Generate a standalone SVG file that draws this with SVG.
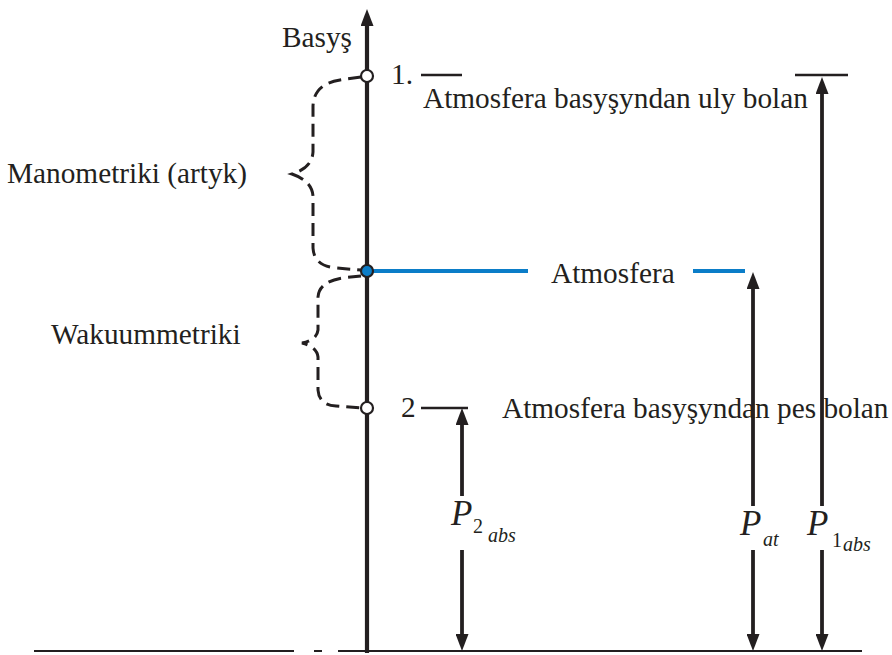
<svg xmlns="http://www.w3.org/2000/svg" width="892" height="655" viewBox="0 0 892 655">
<style>
.t{font-family:"Liberation Serif","Times New Roman",serif;font-size:29.3px;fill:#231f20}
.p{font-family:"Liberation Serif","Times New Roman",serif;font-style:italic;fill:#231f20}
.s{font-family:"Liberation Serif","Times New Roman",serif;fill:#231f20}
.ln{stroke:#231f20;fill:none}
.ax{stroke:#231f20;stroke-width:4.2;fill:none}
.ar{stroke:#231f20;stroke-width:3.8;fill:none}
.bl{stroke:#0b7dc8;stroke-width:4;fill:none}
.br{stroke:#231f20;stroke-width:3;fill:none;stroke-dasharray:13 7}
.pt{stroke:#231f20;stroke-width:2.2}
</style>
<defs>
<marker id="ah" markerUnits="userSpaceOnUse" markerWidth="17" markerHeight="13" refX="6" refY="6.5" orient="auto-start-reverse" viewBox="0 0 17 13">
<path d="M0,0 L17,6.5 L0,13 z" fill="#231f20"/>
</marker>
</defs>
<g id="baseline">
<line class="ln" stroke-width="2" x1="34" y1="651" x2="294" y2="651"/>
<line class="ln" stroke-width="2" x1="314" y1="651" x2="322" y2="651"/>
<line class="ln" stroke-width="2" x1="338" y1="651" x2="862" y2="651"/>
</g>
<g id="axis">
<line class="ax" x1="367" y1="653" x2="367" y2="20" marker-end="url(#ah)"/>
<text class="t" x="282" y="47">Basyş</text>
</g>
<g id="connectors">
<line class="bl" x1="367" y1="271" x2="528" y2="271"/>
<line class="bl" x1="693" y1="271" x2="745" y2="271"/>
<line class="ln" stroke-width="2.5" x1="421" y1="75" x2="462" y2="75"/>
<line class="ln" stroke-width="2.5" x1="795" y1="75" x2="848" y2="75"/>
<line class="ln" stroke-width="2.5" x1="421" y1="408" x2="468" y2="408"/>
<line class="ar" x1="822" y1="88" x2="822" y2="506" marker-start="url(#ah)"/>
<line class="ar" x1="822" y1="550" x2="822" y2="640" marker-end="url(#ah)"/>
<line class="ar" x1="753" y1="283" x2="753" y2="506" marker-start="url(#ah)"/>
<line class="ar" x1="753" y1="550" x2="753" y2="640" marker-end="url(#ah)"/>
<line class="ar" x1="462" y1="419" x2="462" y2="496" marker-start="url(#ah)"/>
<line class="ar" x1="462" y1="550" x2="462" y2="640" marker-end="url(#ah)"/>
<path class="br" d="M361 77 L340 80 Q314 84 313 106 L313 152 Q312 168 292 174 Q312 181 313 196 L313 248 Q314 266 336 268 L361 270"/>
<path class="br" d="M361 276 L342 278 Q319 282 318 297 L318 330 Q317 340 302 343 Q317 347 318 357 L318 390 Q319 405 336 406 L361 408"/>
</g>
<g id="point1">
<circle class="pt" cx="367" cy="76" r="6" fill="#ffffff"/>
<text class="t" x="391" y="84">1.</text>
<text class="t" x="423" y="108">Atmosfera basyşyndan uly bolan</text>
</g>
<g id="atmosphere">
<circle class="pt" cx="367" cy="271" r="6" fill="#0b7dc8"/>
<text class="t" x="551" y="283">Atmosfera</text>
</g>
<g id="point2">
<circle class="pt" cx="367" cy="408" r="6" fill="#ffffff"/>
<text class="t" x="401" y="417">2</text>
<text class="t" x="502" y="418">Atmosfera basyşyndan pes bolan</text>
</g>
<g id="manometric">
<text class="t" x="7" y="183" font-size="30.2">Manometriki (artyk)</text>
</g>
<g id="vacuum">
<text class="t" x="51" y="344" font-size="31">Wakuummetriki</text>
</g>
<g id="p2abs">
<text class="p" x="451" y="525" font-size="35">P</text>
<text class="s" x="473" y="533" font-size="20">2</text>
<text class="p" x="488" y="542" font-size="20">abs</text>
</g>
<g id="pat">
<text class="p" x="740" y="535" font-size="35">P</text>
<text class="p" x="763" y="546" font-size="20">at</text>
</g>
<g id="p1abs">
<text class="p" x="807" y="535" font-size="35">P</text>
<text class="s" x="832" y="547" font-size="20">1</text>
<text class="p" x="843" y="551" font-size="20">abs</text>
</g>
</svg>
